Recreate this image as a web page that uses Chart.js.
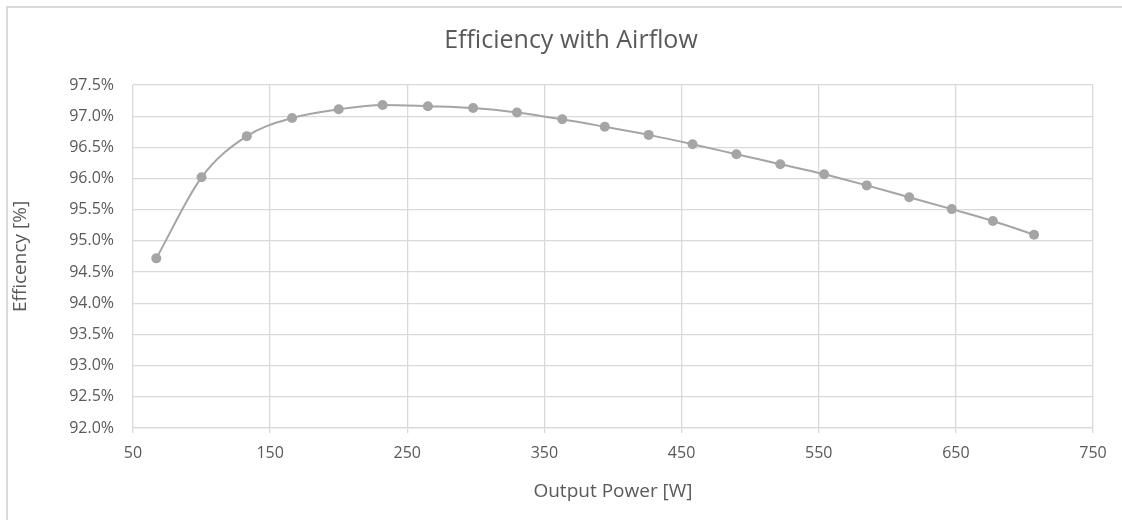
<!DOCTYPE html>
<html lang="en">
  <head>
    <meta charset="UTF-8" />
    <title>Efficiency with Airflow</title>
    <script src="https://cdn.jsdelivr.net/npm/chart.js"></script>
    <style>
      html, body { margin: 0; padding: 0; background: #fff; }
      #wrap { position: relative; width: 1122px; height: 520px; overflow: hidden; }
      #frame {
        position: absolute; left: 6px; top: 6px; width: 1200px; height: 600px;
        border-top: 2px solid #d9d9d9; border-left: 2px solid #d9d9d9;
        pointer-events: none;
      }
    </style>
  </head>
  <body>
    <div id="wrap">
      <canvas id="effChart" width="1122" height="520"></canvas>
      <div id="frame"></div>
    </div>

    <script>
      // output power [W] and efficiency [%]
      const outputPower = [67, 100, 133, 166, 200, 232, 265, 298, 330, 363, 394,
        426, 458, 490, 522, 554, 585, 616, 647, 677, 707];
      const efficiency = [94.72, 96.02, 96.68, 96.97, 97.11, 97.18, 97.16, 97.13,
        97.06, 96.95, 96.83, 96.70, 96.55, 96.39, 96.23, 96.07, 95.89, 95.70,
        95.51, 95.32, 95.10];
      const xTicks = [50, 150, 250, 350, 450, 550, 650, 750];
      const yTicks = [92.0, 92.5, 93.0, 93.5, 94.0, 94.5, 95.0, 95.5, 96.0,
        96.5, 97.0, 97.5];
      const chartTitle = "Efficiency with Airflow";

      const grey = "#595959";
      const gridCol = "#d9d9d9";
      const fontFam = "'Open Sans', sans-serif";

      // the Excel title sits centred on the (wider) chart frame, not the canvas
      const titlePlugin = {
        id: "frameTitle",
        afterDraw(chart) {
          const c = chart.ctx;
          c.save();
          c.fillStyle = grey;
          c.font = "25px " + fontFam;
          c.textAlign = "center";
          c.textBaseline = "middle";
          c.fillText(chartTitle, chart.width / 2 + 10, 41);
          c.restore();
        },
      };

      const ctx = document.getElementById("effChart").getContext("2d");
      new Chart(ctx, {
        type: "line",
        data: {
          datasets: [
            {
              label: "Efficiency",
              data: outputPower.map((p, i) => ({ x: p, y: efficiency[i] })),
              borderColor: "#a5a5a5",
              backgroundColor: "#a5a5a5",
              borderWidth: 2,
              pointRadius: 5,
              pointBorderWidth: 0,
              tension: 0.4,
              cubicInterpolationMode: "monotone",
              fill: false,
            },
          ],
        },
        options: {
          responsive: false,
          animation: false,
          layout: { padding: { left: 7, right: 29, top: 85, bottom: 7 } },
          plugins: {
            legend: { display: false },
            tooltip: { enabled: false },
            title: { display: false },
          },
          scales: {
            x: {
              type: "linear",
              min: xTicks[0],
              max: xTicks[xTicks.length - 1],
              afterBuildTicks: (s) => { s.ticks = xTicks.map((v) => ({ value: v })); },
              afterFit: (s) => { s.height = 85; },
              grid: { color: gridCol, lineWidth: 1.3, tickLength: 5, tickColor: gridCol },
              border: { color: gridCol, width: 1.3 },
              ticks: {
                color: grey,
                padding: 11,
                maxRotation: 0,
                font: { family: fontFam, size: 16 },
              },
              title: {
                display: true,
                text: "Output Power [W]",
                color: grey,
                font: { family: fontFam, size: 19 },
                padding: { top: 0, bottom: 10 },
              },
            },
            y: {
              min: yTicks[0],
              max: yTicks[yTicks.length - 1],
              afterBuildTicks: (s) => { s.ticks = yTicks.map((v) => ({ value: v })); },
              afterFit: (s) => { s.width = 126; },
              grid: { color: gridCol, lineWidth: 1.3, drawTicks: false },
              border: { display: false },
              ticks: {
                color: grey,
                padding: 19,
                font: { family: fontFam, size: 16 },
                callback: (v) => v.toFixed(1) + "%",
              },
              title: {
                display: true,
                text: "Efficency [%]",
                color: grey,
                font: { family: fontFam, size: 19 },
                padding: { top: 2, bottom: 0 },
              },
            },
          },
        },
        plugins: [titlePlugin],
      });
    </script>
  </body>
</html>
